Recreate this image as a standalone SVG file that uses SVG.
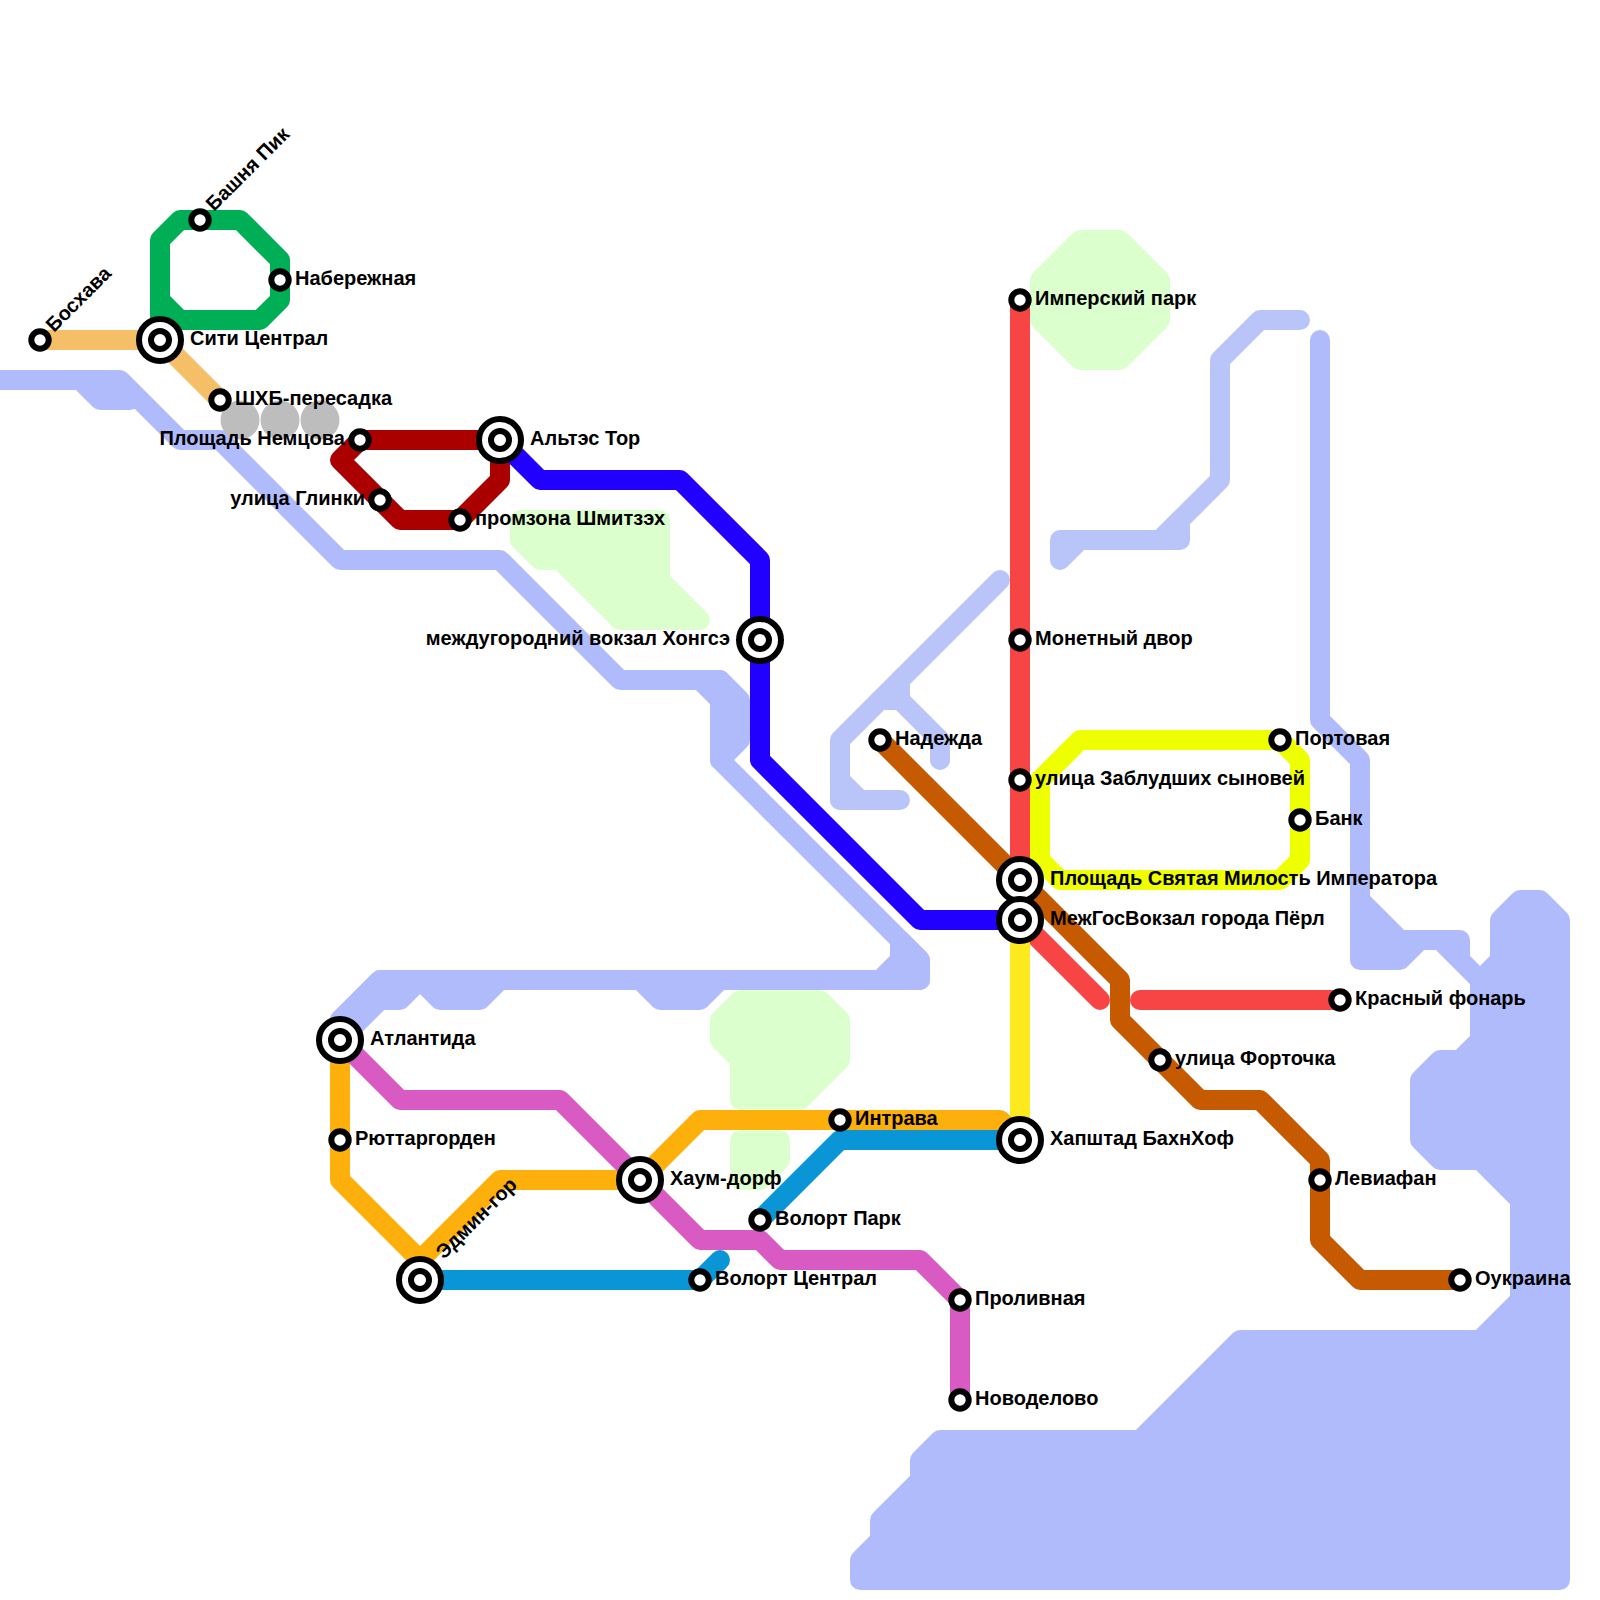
<svg xmlns="http://www.w3.org/2000/svg" width="1600" height="1600" viewBox="0 0 1600 1600">
<style>
.w{fill:none;stroke:#b0bbfc;stroke-width:20;stroke-linejoin:round;stroke-linecap:round}
.wf{fill:#b0bbfc;stroke:#b0bbfc;stroke-width:20;stroke-linejoin:round;stroke-linecap:round}
.l{fill:none;stroke:#b9c4f9;stroke-width:20;stroke-linejoin:round;stroke-linecap:round}
.lf{fill:#b9c4f9;stroke:#b9c4f9;stroke-width:20;stroke-linejoin:round;stroke-linecap:round}
.p{fill:#dbffcd;stroke:#dbffcd;stroke-width:20;stroke-linejoin:round}
.g{fill:#bdbdbd}
.c{fill:none;stroke-width:20;stroke-linejoin:round;stroke-linecap:round}
.s{fill:#fff;stroke:#000;stroke-width:6}
.o{fill:#fff;stroke:#000;stroke-width:6}
text{font-family:"Liberation Sans",Arial,sans-serif;font-weight:700;font-size:20px;fill:#000}
.e{text-anchor:end}
</style>
<g id="water">
<path class="w" d="M0 380H120L180 440H220L340 560H500L620 680H720"/>
<path class="wf" d="M80 380L100 400H130Z"/>
<path class="wf" d="M700 680H720L740 700V740L720 760V700Z"/>
<path class="w" d="M720 760L920 960V980H380L340 1020"/>
<path class="wf" d="M900 940L920 960V980H880L900 960Z"/>
<path class="wf" d="M340 1020L380 980V1000L340 1040Z"/>
<path class="w" d="M380 1000H400L420 980L440 1000H480L500 980"/>
<path class="w" d="M640 980L660 1000H700L720 980Z"/>
<path class="w" d="M1320 340V720L1360 760V900"/>
<path class="wf" d="M1360 960V900L1400 940H1460V960L1480 980L1500 960V920L1520 900H1540L1560 920V1580H860V1560L880 1540V1520L920 1480V1460L940 1440H1140L1240 1340H1480L1520 1300V1200L1480 1160H1440L1420 1140V1080L1440 1060H1460L1480 1040V980L1440 940H1420L1400 960Z"/>
<path class="l" d="M1000 580L840 740V800H900"/>
<path class="lf" d="M840 780L860 800H840Z"/>
<path class="l" d="M900 680V700L940 740V760"/>
<path class="l" d="M880 700H900"/>
<path class="l" d="M1300 320H1260L1220 360V480L1160 540"/>
<path class="lf" d="M1060 560V540H1180V520L1160 540H1080Z"/>
</g>
<g id="parks">
<path class="p" d="M1040 280L1080 240H1120L1160 280V320L1120 360H1080L1040 320Z"/>
<path class="p" d="M520 520H660V580L700 620H620L560 560H540L520 540Z"/>
<path class="p" d="M720 1020L740 1000H820L840 1020V1060L800 1100H740V1060L720 1040Z"/>
<path class="p" d="M740 1140H780V1160L760 1180H740Z"/>
</g>
<g id="interchange-areas">
<circle class="g" cx="240" cy="420" r="19.5"/>
<circle class="g" cx="280" cy="420" r="19.5"/>
<circle class="g" cx="320" cy="420" r="19.5"/>
</g>
<g id="connectors">
<path class="c" stroke="#f4bf66" d="M40 340H160L220 400"/>
<path class="c" stroke="#00ae55" d="M160 340V240L180 220H240L280 260V300L260 320H180L160 300"/>
<path class="c" stroke="#aa0000" d="M360 440H500V480L460 520H400L340 460L360 440"/>
<path class="c" stroke="#f74444" d="M1020 300V920L1100 1000M1140 1000H1340"/>
<path class="c" stroke="#2200ff" d="M500 440L540 480H680L760 560V760L920 920H1020"/>
<path class="c" stroke="#eeff00" d="M1040 780L1080 740H1280L1300 760V860L1280 880H1060L1040 860Z"/>
<path class="c" stroke="#c55a00" d="M880 740L1120 980V1020L1200 1100H1260L1320 1160V1240L1360 1280H1460"/>
<path class="c" stroke="#fdea1e" d="M1020 920V1140"/>
<path class="c" stroke="#fdb00c" d="M340 1040V1180L420 1260V1280M420 1260L500 1180H640L700 1120H1000L1020 1140"/>
<path class="c" stroke="#0a96d6" d="M420 1280H700L720 1260M760 1220L840 1140H1020"/>
<path class="c" stroke="#d85ac2" d="M340 1040L400 1100H560L700 1240H760L780 1260H920L960 1300V1400"/>
</g>
<g id="st-bosxava"><circle class="s" cx="40" cy="340" r="8.7"/><text transform="translate(54 333) rotate(-45)">Босхава</text></g>
<g id="st-bashnya-pik"><circle class="s" cx="200" cy="220" r="8.7"/><text transform="translate(214 212) rotate(-45)">Башня Пик</text></g>
<g id="st-naberezhnaya"><circle class="s" cx="280" cy="280" r="8.7"/><text x="295" y="285">Набережная</text></g>
<g id="st-siti"><circle class="o" cx="160" cy="340" r="21"/><circle class="s" cx="160" cy="340" r="9"/><text x="190" y="345">Сити Централ</text></g>
<g id="st-shhb"><circle class="s" cx="220" cy="400" r="8.7"/><text x="235" y="405">ШХБ-пересадка</text></g>
<g id="st-nemcova"><circle class="s" cx="360" cy="440" r="8.7"/><text class="e" x="345" y="445">Площадь Немцова</text></g>
<g id="st-glinki"><circle class="s" cx="380" cy="500" r="8.7"/><text class="e" x="365" y="505">улица Глинки</text></g>
<g id="st-promzona"><circle class="s" cx="460" cy="520" r="8.7"/><text x="475" y="525">промзона Шмитзэх</text></g>
<g id="st-altes"><circle class="o" cx="500" cy="440" r="21"/><circle class="s" cx="500" cy="440" r="9"/><text x="530" y="445">Альтэс Тор</text></g>
<g id="st-hongse"><circle class="o" cx="760" cy="640" r="21"/><circle class="s" cx="760" cy="640" r="9"/><text class="e" x="730" y="645">междугородний вокзал Хонгсэ</text></g>
<g id="st-nadezhda"><circle class="s" cx="880" cy="740" r="8.7"/><text x="895" y="745">Надежда</text></g>
<g id="st-imperial"><circle class="s" cx="1020" cy="300" r="8.7"/><text x="1035" y="305">Имперский парк</text></g>
<g id="st-monetny"><circle class="s" cx="1020" cy="640" r="8.7"/><text x="1035" y="645">Монетный двор</text></g>
<g id="st-zabludshih"><circle class="s" cx="1020" cy="780" r="8.7"/><text x="1035" y="785">улица Заблудших сыновей</text></g>
<g id="st-portovaya"><circle class="s" cx="1280" cy="740" r="8.7"/><text x="1295" y="745">Портовая</text></g>
<g id="st-bank"><circle class="s" cx="1300" cy="820" r="8.7"/><text x="1315" y="825">Банк</text></g>
<g id="st-milost"><circle class="o" cx="1020" cy="880" r="21"/><circle class="s" cx="1020" cy="880" r="9"/><text x="1050" y="885">Площадь Святая Милость Императора</text></g>
<g id="st-mezhgos"><circle class="o" cx="1020" cy="920" r="21"/><circle class="s" cx="1020" cy="920" r="9"/><text x="1050" y="925">МежГосВокзал города Пёрл</text></g>
<g id="st-krasny"><circle class="s" cx="1340" cy="1000" r="8.7"/><text x="1355" y="1005">Красный фонарь</text></g>
<g id="st-fortochka"><circle class="s" cx="1160" cy="1060" r="8.7"/><text x="1175" y="1065">улица Форточка</text></g>
<g id="st-leviafan"><circle class="s" cx="1320" cy="1180" r="8.7"/><text x="1335" y="1185">Левиафан</text></g>
<g id="st-oukraina"><circle class="s" cx="1460" cy="1280" r="8.7"/><text x="1475" y="1285">Оукраина</text></g>
<g id="st-hapshtad"><circle class="o" cx="1020" cy="1140" r="21"/><circle class="s" cx="1020" cy="1140" r="9"/><text x="1050" y="1145">Хапштад БахнХоф</text></g>
<g id="st-intrava"><circle class="s" cx="840" cy="1120" r="8.7"/><text x="855" y="1125">Интрава</text></g>
<g id="st-ruttar"><circle class="s" cx="340" cy="1140" r="8.7"/><text x="355" y="1145">Рюттаргорден</text></g>
<g id="st-atlantida"><circle class="o" cx="340" cy="1040" r="21"/><circle class="s" cx="340" cy="1040" r="9"/><text x="370" y="1045">Атлантида</text></g>
<g id="st-haum"><circle class="o" cx="640" cy="1180" r="21"/><circle class="s" cx="640" cy="1180" r="9"/><text x="670" y="1185">Хаум-дорф</text></g>
<g id="st-volort-park"><circle class="s" cx="760" cy="1220" r="8.7"/><text x="775" y="1225">Волорт Парк</text></g>
<g id="st-volort-central"><circle class="s" cx="700" cy="1280" r="8.7"/><text x="715" y="1285">Волорт Централ</text></g>
<g id="st-edmin"><circle class="o" cx="420" cy="1280" r="21"/><circle class="s" cx="420" cy="1280" r="9"/><text transform="translate(444 1260) rotate(-45)">Эдмин-гор</text></g>
<g id="st-prolivnaya"><circle class="s" cx="960" cy="1300" r="8.7"/><text x="975" y="1305">Проливная</text></g>
<g id="st-novodelovo"><circle class="s" cx="960" cy="1400" r="8.7"/><text x="975" y="1405">Новоделово</text></g>
</svg>
